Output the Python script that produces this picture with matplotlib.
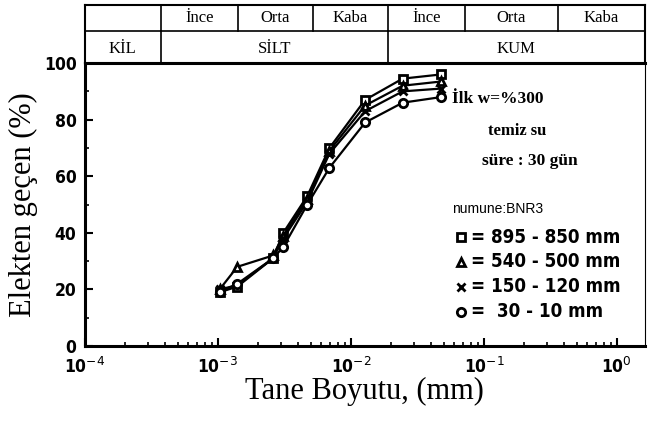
import numpy as np
import matplotlib
matplotlib.use("Agg")
import matplotlib.pyplot as plt
from matplotlib.ticker import FixedLocator, NullFormatter

# grain size (mm)
sizes = [1.03e-3, 1.4e-3, 2.6e-3, 3.1e-3, 4.7e-3, 6.9e-3, 1.28e-2, 2.45e-2, 4.8e-2]

# percent passing for each sample depth
pass_895 = [19, 21, 31, 40, 53, 70, 87, 94.5, 96]
pass_540 = [20, 28, 32, 39, 52, 69, 85, 92, 93.5]
pass_150 = [20, 21.5, 31, 38, 51, 68, 83, 90, 91]
pass_30 = [19, 22, 31, 35, 50, 63, 79, 86, 88]

legend_labels = ["= 895 - 850 mm", "= 540 - 500 mm", "= 150 - 120 mm", "=  30 - 10 mm"]

# header (soil class) cells
row1_edges = [3.72e-4, 1.41e-3, 5.18e-3, 1.90e-2, 7.2e-2, 0.36]
row1_names = ["İnce", "Orta", "Kaba", "İnce", "Orta", "Kaba"]
row2_edges = [3.72e-4, 1.90e-2]
row2_names = ["KİL", "SİLT", "KUM"]

xmin, xmax = 1e-4, 1.62

serif = "Liberation Serif"
cond = dict(family="DejaVu Sans", stretch="condensed", fontweight="bold")

fig = plt.figure(figsize=(6.48, 4.32), dpi=100)
ax = fig.add_axes([0.131, 0.199, 0.864, 0.655])

series = [(pass_895, "s"), (pass_540, "^"), (pass_150, "x"), (pass_30, "o")]
for vals, m in series:
    ax.plot(sizes, vals, color="black", lw=1.6, marker=m, ms=6, mew=2,
            mfc="white" if m != "x" else "black", mec="black")

ax.set_xscale("log")
ax.set_xlim(xmin, xmax)
ax.set_ylim(0, 100)

ax.set_yticks([0, 20, 40, 60, 80, 100])
ax.yaxis.set_minor_locator(FixedLocator([10, 30, 50, 70, 90]))
ax.set_yticklabels(["0", "20", "40", "60", "80", "100"], fontsize=12.5, **cond)
ax.set_xticks([1e-4, 1e-3, 1e-2, 1e-1, 1])
ax.set_xticklabels(["10$^{-4}$", "10$^{-3}$", "10$^{-2}$", "10$^{-1}$", "10$^{0}$"],
                   fontsize=12.5, **cond)
ax.xaxis.set_minor_formatter(NullFormatter())
ax.tick_params(which="major", direction="in", length=6, width=1.5, pad=6)
ax.tick_params(which="minor", direction="in", length=3, width=1.2)
ax.tick_params(axis="x", which="major", pad=8)

for side in ["left", "bottom", "top"]:
    ax.spines[side].set_linewidth(2.2)
ax.spines["right"].set_linewidth(0.8)

ax.set_xlabel("Tane Boyutu, (mm)", family=serif, fontsize=22, labelpad=0)
ax.set_ylabel("Elekten geçen (%)", family=serif, fontsize=22, labelpad=4)

# annotations
ax.text(0.655, 0.86, "İlk w=%300", transform=ax.transAxes, family=serif,
        fontsize=12.5, fontweight="bold")
ax.text(0.72, 0.745, "temiz su", transform=ax.transAxes, family=serif,
        fontsize=12, fontweight="bold")
ax.text(0.71, 0.64, "süre : 30 gün", transform=ax.transAxes, family=serif,
        fontsize=12.5, fontweight="bold")
ax.text(0.655, 0.47, "numune:BNR3", transform=ax.transAxes, family="Liberation Sans",
        fontsize=10)
for i, (lab, (vals, m)) in enumerate(zip(legend_labels, series)):
    yy = 0.385 - i * 0.088
    ax.plot([0.672], [yy], transform=ax.transAxes, marker=m, ms=6, mew=2,
            mfc="white" if m != "x" else "black", mec="black", clip_on=False)
    ax.text(0.69, yy, lab, transform=ax.transAxes, fontsize=13.5, va="center", **cond)

# header table
hx = fig.add_axes([0.131, 0.854, 0.864, 0.134])
hx.set_xscale("log")
hx.set_xlim(xmin, xmax)
hx.set_ylim(0, 1)
hx.set_xticks([])
hx.set_yticks([])
hx.minorticks_off()
for s in hx.spines.values():
    s.set_linewidth(1.5)
hx.axhline(0.55, color="black", lw=1.2)
for e in row1_edges:
    hx.plot([e, e], [0.55, 1], color="black", lw=1.2)
for e in row2_edges:
    hx.plot([e, e], [0, 0.55], color="black", lw=1.2)

b1 = row1_edges + [xmax]
for i, name in enumerate(row1_names):
    xc = np.sqrt(b1[i] * b1[i + 1])
    hx.text(xc, 0.77, name, ha="center", va="center", family=serif, fontsize=12)
b2 = [xmin] + row2_edges + [xmax]
for i, name in enumerate(row2_names):
    xc = np.sqrt(b2[i] * b2[i + 1])
    hx.text(xc, 0.25, name, ha="center", va="center", family=serif, fontsize=12)

fig.savefig("out.png", dpi=100)
